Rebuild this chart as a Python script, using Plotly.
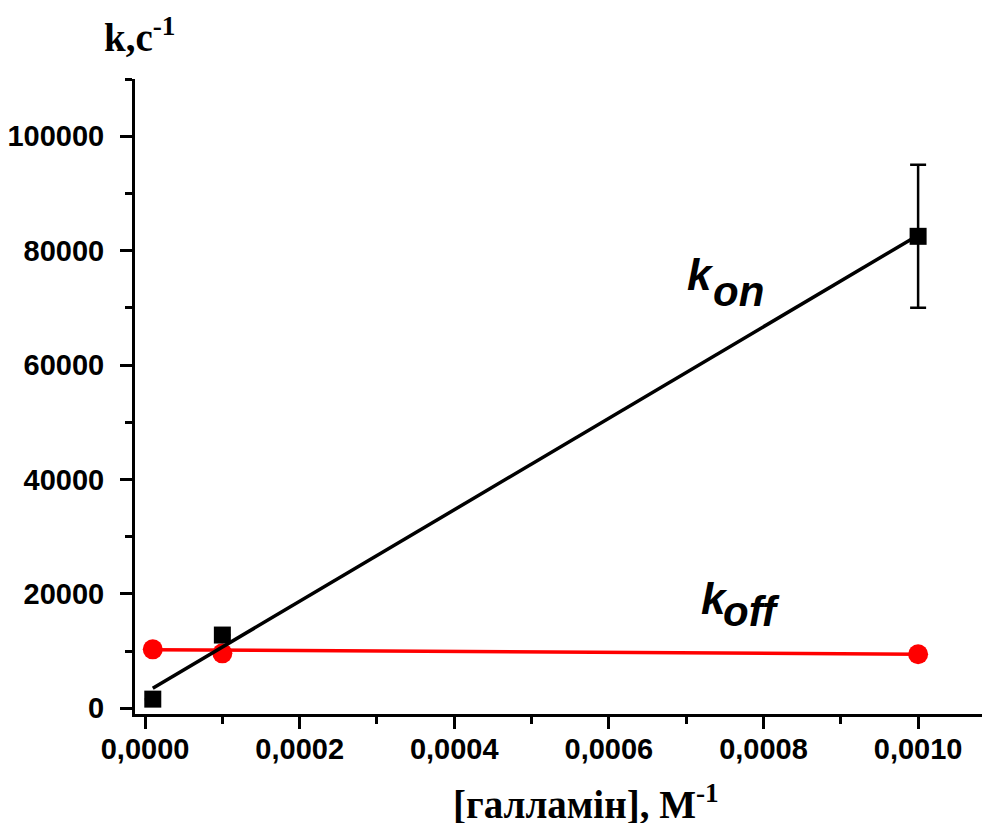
import plotly.graph_objects as go

# ---- data ----
conc = [0.00001, 0.0001, 0.001]            # [галламін], M
k_on = [1600, 12800, 82500]                 # s^-1
k_on_err = [None, None, 12500]
k_off = [10300, 9600, 9450]
k_on_fit_x = [0.00001, 0.001]
k_on_fit_y = [3500, 82700]
k_off_fit_x = [0.00001, 0.001]
k_off_fit_y = [10250, 9450]

x_ticks = [0.0, 0.0002, 0.0004, 0.0006, 0.0008, 0.0010]
y_ticks = [0, 20000, 40000, 60000, 80000, 100000]

fig = go.Figure()

# k_off (red)
fig.add_trace(go.Scatter(x=k_off_fit_x, y=k_off_fit_y, mode="lines",
                         line=dict(color="#ff0000", width=3.5), showlegend=False, hoverinfo="skip"))
fig.add_trace(go.Scatter(x=conc, y=k_off, mode="markers",
                         marker=dict(symbol="circle", size=20, color="#ff0000"), showlegend=False))
# k_on (black)
fig.add_trace(go.Scatter(x=k_on_fit_x, y=k_on_fit_y, mode="lines",
                         line=dict(color="black", width=3.5), showlegend=False, hoverinfo="skip"))
fig.add_trace(go.Scatter(x=conc, y=k_on, mode="markers",
                         marker=dict(symbol="square", size=17, color="black"),
                         error_y=dict(type="data", array=k_on_err, visible=True,
                                      color="black", thickness=2.5, width=8),
                         showlegend=False))

axis_common = dict(showline=True, linecolor="black", linewidth=3, ticks="outside",
                   ticklen=12, tickwidth=3, tickcolor="black", showgrid=False, zeroline=False,
                   tickfont=dict(family="Liberation Sans", size=29, color="black", weight="bold"))

fig.update_xaxes(range=[-0.000013, 0.001093], tickvals=x_ticks, tickformat=".4f",
                 ticklabelstandoff=-5,
                 minor=dict(dtick=0.0001, tick0=0, ticks="outside", ticklen=7, tickwidth=3,
                            tickcolor="black", showgrid=False),
                 **axis_common)
fig.update_yaxes(range=[-1000, 110000], tickvals=y_ticks, tickformat="d",
                 ticklabelstandoff=10,
                 minor=dict(dtick=10000, tick0=0, ticks="outside", ticklen=7, tickwidth=3,
                            tickcolor="black", showgrid=False),
                 **axis_common)

lab_font = dict(family="Liberation Sans", color="black", weight="bold", style="italic")
annotations = [
    dict(x=0.000718, y=75800, text="k", font=dict(size=44, **lab_font)),
    dict(x=0.000768, y=72900, text="on", font=dict(size=42, **lab_font)),
    dict(x=0.000736, y=19200, text="k", font=dict(size=44, **lab_font)),
    dict(x=0.000784, y=16900, text="off", font=dict(size=42, **lab_font)),
]
for a in annotations:
    fig.add_annotation(xref="x", yref="y", showarrow=False, xanchor="center", yanchor="middle", **a)

title_font = dict(family="Liberation Serif", size=39, color="black", weight="bold")
fig.add_annotation(xref="paper", yref="paper", x=0.006, y=1.07, showarrow=False,
                   xanchor="center", yanchor="middle", text="k,c<sup>-1</sup>", font=title_font)
fig.add_annotation(xref="paper", yref="paper", x=0.528, y=-0.138, showarrow=False,
                   xanchor="center", yanchor="middle", text="[галламін], М<sup>-1</sup>",
                   font=title_font)

# page body has an 8px margin: figure is sized so the plot area lands where the reference has it
fig.update_layout(width=982, height=815, margin=dict(l=127, r=0, t=71, b=109),
                  plot_bgcolor="white", paper_bgcolor="white", separators=",.",
                  showlegend=False)

fig.write_html("out.html")
